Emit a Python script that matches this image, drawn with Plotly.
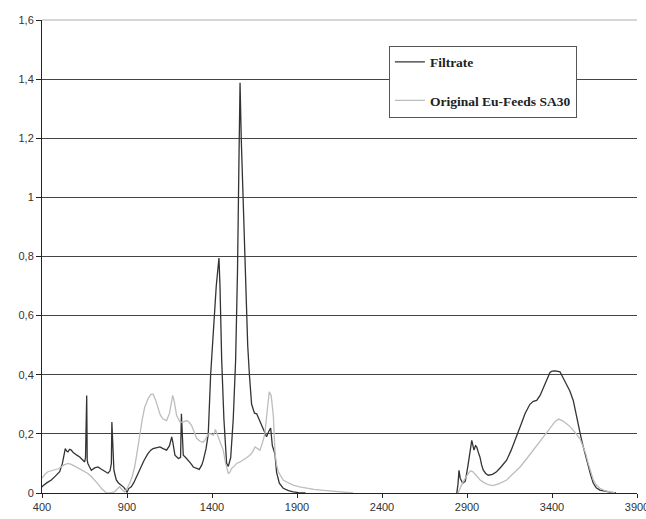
import plotly.graph_objects as go

# ---- data ----
filtrate_x = [400, 406, 430, 455, 480, 504, 520, 529, 537, 545, 553, 562, 572, 582, 592, 605, 622, 640, 651,
              656, 659, 663, 666, 670, 680, 690, 710, 729, 745, 759, 775, 788, 800, 808, 811, 814, 818, 823,
              830, 837, 850, 866, 880, 890, 900, 910, 925, 940, 955, 970, 984, 1000, 1023, 1040, 1053, 1065,
              1082, 1094, 1112, 1133, 1150, 1163, 1170, 1182, 1202, 1215, 1220, 1224, 1231, 1245, 1261, 1275,
              1290, 1310, 1325, 1340, 1349, 1365, 1378, 1392, 1408, 1425, 1441, 1447, 1457, 1470, 1486, 1496,
              1510, 1525, 1539, 1550, 1558, 1565, 1572, 1584, 1600, 1610, 1620, 1633, 1650, 1663, 1680, 1702,
              1721, 1735, 1745, 1755, 1770, 1780, 1796, 1819, 1850, 1878, 1909, 1950,
              None,
              2840, 2847, 2853, 2860, 2875, 2890, 2905, 2920, 2928, 2935, 2941, 2950, 2957, 2965, 2976, 2986,
              2996, 3010, 3025, 3050, 3074, 3100, 3133, 3160, 3192, 3220, 3241, 3270, 3290, 3310, 3330, 3349,
              3370, 3388, 3400, 3420, 3447, 3465, 3486, 3505, 3525, 3540, 3555, 3570, 3584, 3600, 3613, 3628,
              3643, 3660, 3682, 3710, 3741, 3776]
filtrate_y = [0.02, 0.025, 0.035, 0.044, 0.058, 0.072, 0.10, 0.122, 0.150, 0.142, 0.139, 0.148, 0.145, 0.138,
              0.133, 0.128, 0.122, 0.112, 0.105, 0.12, 0.33, 0.33, 0.11, 0.10, 0.088, 0.077, 0.085, 0.088,
              0.082, 0.077, 0.072, 0.067, 0.075, 0.10, 0.24, 0.20, 0.10, 0.077, 0.06, 0.044, 0.034, 0.027,
              0.02, 0.012, 0.002, 0.015, 0.021, 0.035, 0.055, 0.07, 0.088, 0.11, 0.133, 0.145, 0.150, 0.152,
              0.156, 0.156, 0.150, 0.145, 0.16, 0.19, 0.17, 0.128, 0.117, 0.12, 0.268, 0.20, 0.128, 0.12,
              0.111, 0.10, 0.088, 0.082, 0.080, 0.095, 0.111, 0.15, 0.20, 0.40, 0.55, 0.70, 0.795, 0.70,
              0.45, 0.25, 0.10, 0.09, 0.12, 0.25, 0.45, 0.75, 1.1, 1.388, 1.2, 0.95, 0.65, 0.50, 0.40, 0.30,
              0.27, 0.268, 0.245, 0.217, 0.19, 0.21, 0.22, 0.16, 0.133, 0.07, 0.033, 0.016, 0.008, 0.004,
              0.001, 0.0,
              None,
              0.0, 0.03, 0.077, 0.05, 0.033, 0.04, 0.09, 0.16, 0.178, 0.16, 0.145, 0.16, 0.156, 0.14, 0.122,
              0.095, 0.077, 0.066, 0.06, 0.063, 0.072, 0.088, 0.111, 0.145, 0.19, 0.235, 0.268, 0.30, 0.31,
              0.313, 0.33, 0.357, 0.385, 0.408, 0.412, 0.413, 0.41, 0.39, 0.369, 0.345, 0.313, 0.27, 0.223,
              0.19, 0.156, 0.12, 0.088, 0.06, 0.033, 0.018, 0.01, 0.006, 0.003, 0.0]

original_x = [400, 406, 420, 435, 455, 474, 495, 513, 530, 553, 572, 592, 610, 631, 650, 670, 690, 710, 730,
              749, 765, 778, 800, 827, 845, 857, 870, 886, 900, 916, 930, 945, 960, 974, 990, 1004, 1025, 1040,
              1053, 1068, 1082, 1095, 1112, 1133, 1150, 1163, 1169, 1178, 1192, 1212, 1230, 1251, 1265, 1280,
              1295, 1310, 1330, 1349, 1365, 1378, 1395, 1408, 1420, 1437, 1450, 1466, 1480, 1496, 1505, 1515,
              1530, 1545, 1565, 1584, 1605, 1623, 1640, 1653, 1668, 1682, 1697, 1711, 1725, 1737, 1748, 1761,
              1771, 1780, 1790, 1805, 1819, 1850, 1878, 1915, 1957, 2000, 2075, 2150, 2212, 2230,
              None,
              2848, 2870, 2900, 2920, 2935, 2955, 2976, 3000, 3025, 3053, 3090, 3133, 3170, 3212, 3250, 3290,
              3320, 3349, 3375, 3398, 3420, 3440, 3460, 3486, 3510, 3535, 3564, 3584, 3600, 3613, 3628, 3643,
              3660, 3682, 3710, 3741, 3770]
original_y = [0.05, 0.055, 0.065, 0.072, 0.075, 0.077, 0.082, 0.088, 0.095, 0.10, 0.097, 0.091, 0.085, 0.077,
              0.072, 0.066, 0.056, 0.044, 0.03, 0.016, 0.006, 0.0, 0.0, 0.004, 0.015, 0.021, 0.012, 0.004,
              0.015, 0.033, 0.055, 0.088, 0.14, 0.20, 0.25, 0.29, 0.32, 0.333, 0.335, 0.315, 0.29, 0.265,
              0.25, 0.245, 0.27, 0.315, 0.33, 0.31, 0.262, 0.24, 0.24, 0.245, 0.24, 0.228, 0.205, 0.184,
              0.175, 0.172, 0.185, 0.20, 0.20, 0.195, 0.215, 0.19, 0.17, 0.145, 0.10, 0.066, 0.07, 0.083,
              0.09, 0.10, 0.105, 0.111, 0.12, 0.128, 0.14, 0.156, 0.15, 0.145, 0.17, 0.20, 0.28, 0.342,
              0.33, 0.26, 0.133, 0.095, 0.072, 0.055, 0.044, 0.034, 0.027, 0.021, 0.016, 0.012, 0.008,
              0.005, 0.002, 0.0,
              None,
              0.0, 0.03, 0.06, 0.075, 0.072, 0.06, 0.045, 0.035, 0.028, 0.025, 0.032, 0.044, 0.065, 0.088,
              0.115, 0.145, 0.17, 0.19, 0.21, 0.228, 0.243, 0.25, 0.245, 0.234, 0.222, 0.205, 0.184, 0.156,
              0.13, 0.10, 0.07, 0.044, 0.028, 0.016, 0.008, 0.003, 0.0]

series_names = ["Filtrate", "Original Eu-Feeds SA30"]
x_tick_vals = [400, 900, 1400, 1900, 2400, 2900, 3400, 3900]
y_tick_vals = [0, 0.2, 0.4, 0.6, 0.8, 1.0, 1.2, 1.4, 1.6]

fig = go.Figure()
fig.add_trace(go.Scatter(x=filtrate_x, y=filtrate_y, mode="lines", name=series_names[0],
                         line=dict(color="#333333", width=1.3), connectgaps=False, legendgroup="a"))
fig.add_trace(go.Scatter(x=original_x, y=original_y, mode="lines", name=series_names[1],
                         line=dict(color="#bdbdbd", width=1.3), connectgaps=False, legendgroup="b"))

fig.update_layout(
    width=646, height=519,
    margin=dict(l=42, r=9, t=20, b=26, autoexpand=False),
    paper_bgcolor="white", plot_bgcolor="white",
    separators=",.",
    font=dict(family="Liberation Sans, Arial, sans-serif", size=11, color="#333333"),
    xaxis=dict(range=[400, 3900], tickvals=x_tick_vals, showgrid=False, zeroline=False,
               showline=True, linecolor="#222222", linewidth=1, ticks="outside", ticklen=4,
               tickcolor="#222222", tickfont=dict(size=11, color="#333333"),
               ticklabeloverflow="allow", automargin=False),
    yaxis=dict(range=[0, 1.6], tickvals=y_tick_vals, showgrid=True, gridcolor="#454545",
               gridwidth=1.4, zeroline=False, showline=True, linecolor="#222222", linewidth=1,
               ticks="outside", ticklen=5, tickcolor="#222222", tickfont=dict(size=11, color="#333333"),
               automargin=False),
    legend=dict(x=0.583, y=0.946, xanchor="left", yanchor="top", bgcolor="white",
                bordercolor="#555555", borderwidth=1, tracegroupgap=18, itemwidth=30,
                font=dict(family="Liberation Serif, Times New Roman, serif", size=13.5,
                          color="#222222", weight="bold")),
    shapes=[dict(type="line", xref="paper", yref="paper", x0=0, x1=1, y0=1, y1=1,
                 line=dict(color="#c8c8c8", width=1.5), layer="above")],
)

fig.write_html("out.html")
